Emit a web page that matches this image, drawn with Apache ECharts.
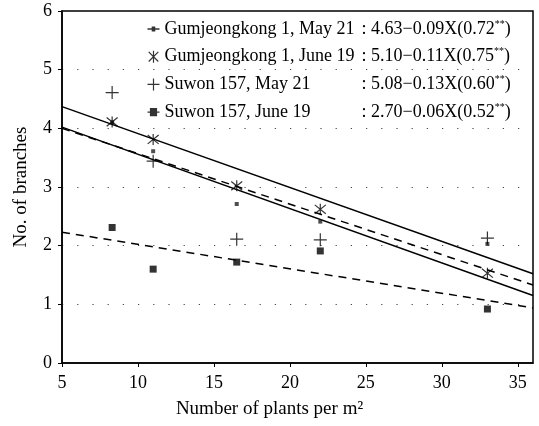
<!DOCTYPE html>
<html>
<head>
<meta charset="utf-8">
<script src="https://cdn.jsdelivr.net/npm/echarts@6/dist/echarts.min.js"></script>
<style>
  html, body { margin: 0; padding: 0; background: #fff; }
  #chart { width: 539px; height: 426px; }
</style>
</head>
<body>
<div id="chart"></div>
<script>
// plant densities (plants per m2)
var density = [8.3, 11, 16.5, 22, 33];
var names = ['Gumjeongkong 1, May 21', 'Gumjeongkong 1, June 19', 'Suwon 157, May 21', 'Suwon 157, June 19'];
var equations = ['4.63\u22120.09X(0.72', '5.10\u22120.11X(0.75', '5.08\u22120.13X(0.60', '2.70\u22120.06X(0.52'];
// observed no. of branches
var gumMay = [4.1, 3.61, 2.71, 2.41, 2.03];
var gumJune = [4.11, 3.81, 3.02, 2.62, 1.53];
var suwonMay = [4.61, 3.44, 2.11, 2.10, 2.13];
var suwonJune = [2.31, 1.60, 1.72, 1.91, 0.92];
// regression lines as drawn (values at x = 5 and x = 36)
var lineX = [5, 36];
var lineGumJune = [4.37, 1.52];
var lineGumMay = [4.02, 1.15];
var lineSuwonMay = [4.0, 1.33];
var lineSuwonJune = [2.23, 0.94];
var xTicks = [5, 10, 15, 20, 25, 30, 35];

var FONT = '"Liberation Serif", "DejaVu Serif", serif';

function pairs(xs, ys) {
    return xs.map(function (x, i) { return [x, ys[i]]; });
}

var asterisk = 'path://M1,1L9,9M9,1L1,9M5,0L5,10';
var plus = 'path://M0,5L10,5M5,0L5,10';
var dashSquare = 'path://M0,4.4H3.5V3H6.5V4.4H10V5.6H6.5V7H3.5V5.6H0Z';
var dashBigSquare = 'path://M0,4.4H2V1.5H8V4.4H10V5.6H8V8.5H2V5.6H0Z';

var strokeStyle = { color: 'none', borderColor: '#000', borderWidth: 1.2 };

var chart = echarts.init(document.getElementById('chart'), null, { renderer: 'canvas' });

var option = {
    animation: false,
    backgroundColor: '#fff',
    grid: {
        left: 62, right: 6, top: 11, bottom: 63,
        show: true, borderColor: '#000', borderWidth: 1.5, backgroundColor: 'transparent'
    },
    legend: {
        orient: 'vertical',
        left: 140,
        top: 14,
        itemGap: 8.7,
        itemWidth: 12,
        itemHeight: 12,
        selectedMode: false,
        data: [
            { name: names[0], icon: dashSquare, itemStyle: { color: '#000', borderWidth: 0 } },
            { name: names[1], icon: asterisk, itemStyle: strokeStyle },
            { name: names[2], icon: plus, itemStyle: strokeStyle },
            { name: names[3], icon: dashBigSquare, itemStyle: { color: '#000', borderWidth: 0 } }
        ],
        formatter: function (name) {
            var i = names.indexOf(name);
            return '{n|' + name + '}{e|: ' + equations[i] + '}{s|**}{e|)}';
        },
        textStyle: {
            fontFamily: FONT,
            color: '#000',
            rich: {
                n: { fontFamily: FONT, fontSize: 18, width: 197, lineHeight: 20, color: '#000' },
                e: { fontFamily: FONT, fontSize: 18, lineHeight: 20, color: '#000' },
                s: { fontFamily: FONT, fontSize: 10, lineHeight: 20, verticalAlign: 'top', color: '#000' }
            }
        }
    },
    xAxis: {
        type: 'value',
        min: 5,
        max: 36,
        interval: 5,
        name: 'Number of plants per m\u00b2',
        nameLocation: 'middle',
        nameGap: 37,
        nameTextStyle: { fontFamily: FONT, fontSize: 19, color: '#000', padding: [0, 56, 0, 0] },
        axisLine: { show: true, lineStyle: { color: '#000', width: 1.5 } },
        axisTick: { show: true, length: 4, lineStyle: { color: '#000' } },
        axisLabel: {
            fontFamily: FONT, fontSize: 18, color: '#000', margin: 11,
            showMaxLabel: false,
            formatter: function (v) { return xTicks.indexOf(v) >= 0 ? String(v) : ''; }
        },
        splitLine: { show: false }
    },
    yAxis: {
        type: 'value',
        min: 0,
        max: 6,
        interval: 1,
        name: 'No. of branches',
        nameLocation: 'middle',
        nameGap: 31,
        nameTextStyle: { fontFamily: FONT, fontSize: 19, color: '#000' },
        axisLine: { show: true, lineStyle: { color: '#000', width: 1.5 } },
        axisTick: { show: true, length: 4, lineStyle: { color: '#000' } },
        axisLabel: { fontFamily: FONT, fontSize: 18, color: '#000', margin: 10 },
        splitLine: { show: true, lineStyle: { color: '#444', width: 1.2, type: [1.2, 14] } }
    },
    series: [
        {
            name: names[0], type: 'scatter', symbol: 'rect', symbolSize: 4,
            itemStyle: { color: '#222' }, data: pairs(density, gumMay), z: 5
        },
        {
            name: names[1], type: 'scatter', symbol: asterisk, symbolSize: 11,
            itemStyle: strokeStyle, data: pairs(density, gumJune), z: 5
        },
        {
            name: names[2], type: 'scatter', symbol: plus, symbolSize: 13,
            itemStyle: strokeStyle, data: pairs(density, suwonMay), z: 5
        },
        {
            name: names[3], type: 'scatter', symbol: 'rect', symbolSize: 7,
            itemStyle: { color: '#000' }, data: pairs(density, suwonJune), z: 5
        },
        {
            type: 'line', showSymbol: false, silent: true,
            lineStyle: { color: '#000', width: 1.5 }, data: pairs(lineX, lineGumJune)
        },
        {
            type: 'line', showSymbol: false, silent: true,
            lineStyle: { color: '#000', width: 1.5 }, data: pairs(lineX, lineGumMay)
        },
        {
            type: 'line', showSymbol: false, silent: true,
            lineStyle: { color: '#000', width: 1.5, type: [8, 6] }, data: pairs(lineX, lineSuwonMay)
        },
        {
            type: 'line', showSymbol: false, silent: true,
            lineStyle: { color: '#000', width: 1.5, type: [8, 6] }, data: pairs(lineX, lineSuwonJune)
        }
    ]
};

chart.setOption(option);
window.addEventListener('resize', chart.resize);
</script>
</body>
</html>
